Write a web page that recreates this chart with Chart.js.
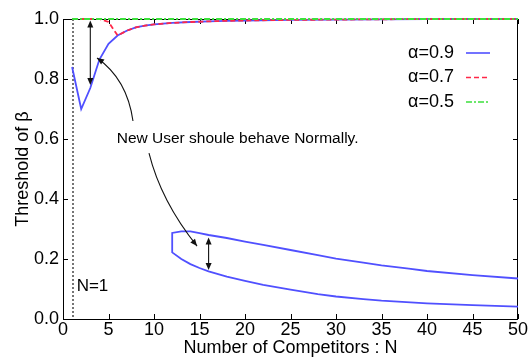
<!DOCTYPE html>
<html><head><meta charset="utf-8">
<script src="https://cdn.jsdelivr.net/npm/chart.js@4/dist/chart.umd.min.js"></script>
<style>html,body{margin:0;padding:0;background:#fff}#wrap{width:529px;height:358px}</style>
</head><body><div id="wrap"><canvas id="c" width="529" height="358"></canvas></div>
<script>
// ---- data ----
const N_main   = [1,2,3,4,5,6,7,8,9,10,12,14,16,18,20,25,30,35,40,45,50];
const beta_a09 = [0.84,0.70,0.77,0.865,0.917,0.945,0.961,0.972,0.978,0.982,0.987,0.990,0.992,0.994,0.995,0.997,0.998,0.999,1.0,1.0,1.0];
const beta_a07 = [1.0,1.0,1.0,1.0,0.99,0.945,0.961,0.972,0.978,0.982,0.987,0.990,0.992,0.994,0.995,0.997,0.998,0.999,1.0,1.0,1.0];
const beta_a05 = [1.0,1.0,1.0,1.0,1.0,1.0,1.0,1.0,1.0,1.0,1.0,1.0,1.0,1.0,1.0,1.0,1.0,1.0,1.0,1.0,1.0];
const N_gapUpper    = [12,13,14,15,16,18,20,22,25,28,30,33,35,38,40,45,50];
const beta_gapUpper = [0.287,0.292,0.292,0.286,0.280,0.270,0.258,0.247,0.230,0.213,0.201,0.188,0.179,0.168,0.160,0.146,0.135];
const N_gapLower    = [12,13,14,15,16,18,20,22,25,28,30,33,35,40,45,50];
const beta_gapLower = [0.222,0.200,0.183,0.170,0.159,0.141,0.127,0.114,0.098,0.083,0.075,0.066,0.061,0.052,0.046,0.041];
const seriesLabels = ['\u03b1=0.9','\u03b1=0.7','\u03b1=0.5'];
const xTicks = [0,5,10,15,20,25,30,35,40,45,50];
const yTicks = [0.0,0.2,0.4,0.6,0.8,1.0];
const noteText = 'New User shoule behave Normally.';
const markN1 = 1;

const C_BLUE = '#5050ff', C_RED = '#ff2848', C_GREEN = '#3ce03c';
const FONT = '"Liberation Sans", Arial, sans-serif';

const pts = (xs, ys) => xs.map((v,i)=>({x:v,y:ys[i]}));
const gapShape = pts(N_gapUpper.slice().reverse(), beta_gapUpper.slice().reverse()).concat(pts(N_gapLower, beta_gapLower));

const deco = {
  id: 'deco',
  beforeDatasetsDraw(chart){
    const {ctx, chartArea:a, scales:{x,y}} = chart;
    ctx.save();
    // frame
    ctx.strokeStyle = '#000'; ctx.lineWidth = 1; ctx.setLineDash([]);
    ctx.strokeRect(Math.round(a.left)+0.5, Math.round(a.top)+0.5, Math.round(a.right-a.left)-1, Math.round(a.bottom-a.top));
    // inward ticks
    const TL = 5;
    ctx.beginPath();
    x.ticks.forEach(t=>{ const p = Math.round(x.getPixelForValue(t.value))+0.5;
      ctx.moveTo(p,a.bottom); ctx.lineTo(p,a.bottom-TL); ctx.moveTo(p,a.top); ctx.lineTo(p,a.top+TL); });
    y.ticks.forEach(t=>{ const p = Math.round(y.getPixelForValue(t.value))+0.5;
      ctx.moveTo(a.left,p); ctx.lineTo(a.left+TL,p); ctx.moveTo(a.right,p); ctx.lineTo(a.right-TL,p); });
    ctx.stroke();
    // N=1 marker line
    ctx.strokeStyle = '#666'; ctx.lineWidth = 1.8; ctx.setLineDash([2,2]);
    const px = Math.round(x.getPixelForValue(markN1)) + 1;
    ctx.beginPath(); ctx.moveTo(px, a.top); ctx.lineTo(px, a.bottom); ctx.stroke();
    ctx.restore();
  },
  afterDatasetsDraw(chart){
    const {ctx, chartArea:a, scales:{x,y}} = chart;
    const P = (n,b)=>[x.getPixelForValue(n), y.getPixelForValue(b)];
    ctx.save();
    // arrows
    const head = (tx,ty,ang)=>{ const L=7,W=3;
      ctx.beginPath(); ctx.moveTo(tx,ty);
      ctx.lineTo(tx - L*Math.cos(ang) + W*Math.sin(ang), ty - L*Math.sin(ang) - W*Math.cos(ang));
      ctx.lineTo(tx - L*Math.cos(ang) - W*Math.sin(ang), ty - L*Math.sin(ang) + W*Math.cos(ang));
      ctx.closePath(); ctx.fill(); };
    ctx.strokeStyle = '#111'; ctx.fillStyle = '#111'; ctx.lineWidth = 1.1;
    const dbl = (n,b1,b2)=>{ const [x1,y1]=P(n,b1), [x2,y2]=P(n,b2);
      ctx.beginPath(); ctx.moveTo(x1,y1+3); ctx.lineTo(x2,y2-3); ctx.stroke();
      head(x1,y1,-Math.PI/2); head(x2,y2,Math.PI/2); };
    dbl(3, 0.995, 0.78);
    dbl(16, 0.272, 0.163);
    const curve = (s,c,e)=>{ const [sx,sy]=P(...s),[cx,cy]=P(...c),[ex,ey]=P(...e);
      ctx.beginPath(); ctx.moveTo(sx,sy); ctx.quadraticCurveTo(cx,cy,ex,ey); ctx.stroke();
      head(ex,ey,Math.atan2(ey-cy,ex-cx)); };
    curve([7.69,0.66],[7.04,0.80],[3.74,0.87]);
    curve([9.45,0.553],[10.77,0.393],[14.73,0.243]);

    // note text
    ctx.fillStyle = '#000';
    ctx.font = '15.5px ' + FONT; ctx.textBaseline = 'middle'; ctx.textAlign = 'left';
    const [tx,ty] = P(5.9, 0.6);
    ctx.fillText(noteText, tx, ty);
    ctx.font = '17px ' + FONT;
    const [nx,ny] = P(1.5, 0.108);
    ctx.fillText('N=' + markN1, nx, ny);

    // legend
    const styles = [{c:C_BLUE,d:[]},{c:C_RED,d:[5,3]},{c:C_GREEN,d:[6,2,2,2]}];
    ctx.font = '18px ' + FONT; ctx.textAlign = 'right';
    seriesLabels.forEach((lab,i)=>{
      const yy = a.top + 34 + i*24.5;
      ctx.fillStyle = '#000'; ctx.fillText(lab, a.right - 64, yy);
      ctx.strokeStyle = styles[i].c; ctx.setLineDash(styles[i].d); ctx.lineWidth = 1.6;
      ctx.beginPath(); ctx.moveTo(a.right-52, yy); ctx.lineTo(a.right-28, yy); ctx.stroke();
    });
    ctx.setLineDash([]);

    // axis titles
    ctx.fillStyle = '#000'; ctx.font = '18px ' + FONT; ctx.textAlign = 'center';
    ctx.fillText('Number of Competitors : N', (a.left+a.right)/2, 348);
    ctx.translate(23, (a.top+a.bottom)/2); ctx.rotate(-Math.PI/2);
    ctx.fillText('Threshold of \u03b2', 0, 0);
    ctx.restore();
  }
};

new Chart(document.getElementById('c'), {
  type: 'scatter',
  data: { datasets: [
    {label: seriesLabels[2], data: pts(N_main, beta_a05), showLine:true, borderColor:C_GREEN, borderWidth:1.8, borderDash:[6,2,2,2], pointRadius:0, tension:0, clip:4},
    {label: seriesLabels[1], data: pts(N_main, beta_a07), showLine:true, borderColor:C_RED, borderWidth:1.8, borderDash:[5,3], pointRadius:0, tension:0, clip:4},
    {label: seriesLabels[0], data: pts(N_main, beta_a09), showLine:true, borderColor:C_BLUE, borderWidth:1.8, pointRadius:0, tension:0, clip:4},
    {label: 'gap', data: gapShape, showLine:true, borderColor:C_BLUE, borderWidth:1.8, pointRadius:0, tension:0, clip:4}
  ]},
  options: {
    responsive:false, animation:false, devicePixelRatio:1,
    layout: {padding:{left:0,right:11,top:19,bottom:0}},
    plugins: {legend:{display:false}, tooltip:{enabled:false}},
    scales: {
      x: {type:'linear', min:0, max:50,
          afterBuildTicks: s => { s.ticks = xTicks.map(v=>({value:v})); },
          afterFit: s => { s.height = 39; },
          grid:{display:false, drawTicks:false}, border:{display:false},
          ticks:{font:{size:18, family:FONT}, color:'#000', padding:0, maxRotation:0, autoSkip:false}},
      y: {type:'linear', min:0, max:1,
          afterBuildTicks: s => { s.ticks = yTicks.map(v=>({value:v})); },
          afterFit: s => { s.width = 63; },
          grid:{display:false, drawTicks:false}, border:{display:false},
          ticks:{font:{size:18, family:FONT}, color:'#000', padding:4, callback: v => v.toFixed(1)}}
    }
  },
  plugins:[deco]
});
</script></body></html>
